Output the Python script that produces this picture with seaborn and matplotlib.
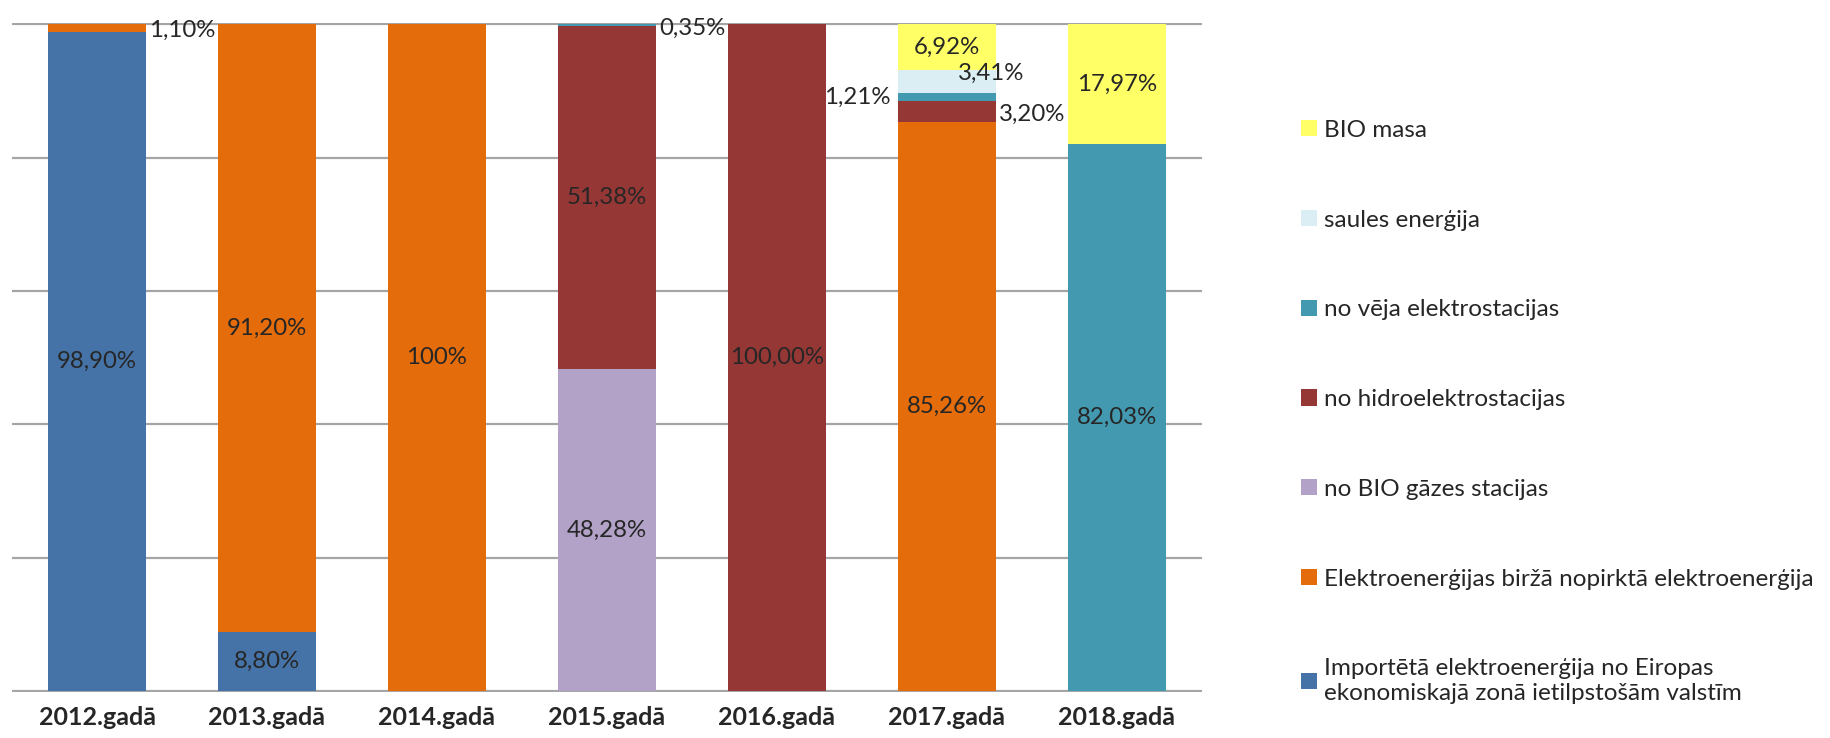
import numpy as np
import matplotlib.pyplot as plt
import seaborn as sns
from matplotlib.patches import Patch

# Categories
years = ["2012.gadā", "2013.gadā", "2014.gadā", "2015.gadā", "2016.gadā", "2017.gadā", "2018.gadā"]

# Shares in %, listed from the bottom of the stack to the top
imports = [98.90, 8.80, 0, 0, 0, 0, 0]
exchange = [1.10, 91.20, 100, 0, 0, 85.26, 0]
biogas = [0, 0, 0, 48.28, 0, 0, 0]
hydro = [0, 0, 0, 51.38, 100, 3.20, 0]
wind = [0, 0, 0, 0.35, 0, 1.21, 82.03]
solar = [0, 0, 0, 0, 0, 3.41, 0]
biomass = [0, 0, 0, 0, 0, 6.92, 17.97]

series_names = [
    "Importētā elektroenerģija no Eiropas\nekonomiskajā zonā ietilpstošām valstīm",
    "Elektroenerģijas biržā nopirktā elektroenerģija",
    "no BIO gāzes stacijas",
    "no hidroelektrostacijas",
    "no vēja elektrostacijas",
    "saules enerģija",
    "BIO masa",
]
colors = ["#4573A7", "#E46C0A", "#B3A2C7", "#953735", "#4399B0", "#DAEEF3", "#FFFF66"]

# Data labels: (series index, year index, text, placement)
bar_labels = [
    (0, 0, "98,90%", "in"), (1, 0, "1,10%", "right"),
    (0, 1, "8,80%", "in"), (1, 1, "91,20%", "in"),
    (1, 2, "100%", "in"),
    (2, 3, "48,28%", "in"), (3, 3, "51,38%", "in"), (4, 3, "0,35%", "right"),
    (3, 4, "100,00%", "in"),
    (1, 5, "85,26%", "in"), (3, 5, "3,20%", "right"), (4, 5, "1,21%", "left"),
    (5, 5, "3,41%", "edge"), (6, 5, "6,92%", "in"),
    (4, 6, "82,03%", "in"), (6, 6, "17,97%", "in"),
]

layers = np.array([imports, exchange, biogas, hydro, wind, solar, biomass], dtype=float)
tops = layers.cumsum(axis=0)
bottoms = tops - layers

sns.set_style("white")
plt.rcParams["font.family"] = ["Lato", "DejaVu Sans"]

fig = plt.figure(figsize=(18.3, 7.38), dpi=100)
ax = fig.add_axes([0.0066, 0.062, 0.65, 0.907])

bar_w = 0.576
lbl_size = 17.3
# draw cumulative heights from the top layer down so lower layers sit on top
for i in range(len(layers) - 1, -1, -1):
    sns.barplot(x=years, y=tops[i], color=colors[i], saturation=1, width=bar_w,
                linewidth=0, errorbar=None, ax=ax, zorder=2)

for s, y, txt, where in bar_labels:
    ymid = bottoms[s, y] + layers[s, y] / 2
    if where == "in":
        ax.text(y, ymid, txt, ha="center", va="center", fontsize=lbl_size, zorder=5)
    elif where == "right":
        ax.text(y + bar_w / 2 + 0.02, ymid - 0.4, txt, ha="left", va="center", fontsize=lbl_size, zorder=5)
    elif where == "left":
        ax.text(y - bar_w / 2 - 0.04, ymid, txt, ha="right", va="center", fontsize=lbl_size, zorder=5)
    else:
        ax.text(y + 0.26, ymid + 1.2, txt, ha="center", va="center", fontsize=lbl_size, zorder=5)

ax.set_xlim(-0.5, 6.5)
ax.set_ylim(-0.2, 100.2)
ax.set_yticks(np.arange(0, 101, 20))
ax.set_yticklabels([])
ax.grid(axis="y", color="#A5A5A5", linewidth=1.6, zorder=0)
ax.set_axisbelow(True)
for sp in ax.spines.values():
    sp.set_visible(False)
ax.tick_params(axis="both", length=0)
ax.tick_params(axis="x", pad=10)
for lbl in ax.get_xticklabels():
    lbl.set_fontweight("bold")
    lbl.set_fontsize(18)
ax.set_xlabel("")
ax.set_ylabel("")

handles = [Patch(facecolor=c, edgecolor="none") for c in colors]
fig.legend(handles[::-1], series_names[::-1], loc="center left",
           bbox_to_anchor=(0.699, 0.442), frameon=False, fontsize=17.5,
           handlelength=0.65, handleheight=0.65, handletextpad=0.3,
           labelspacing=2.83)

fig.savefig("out.png", dpi=100)
